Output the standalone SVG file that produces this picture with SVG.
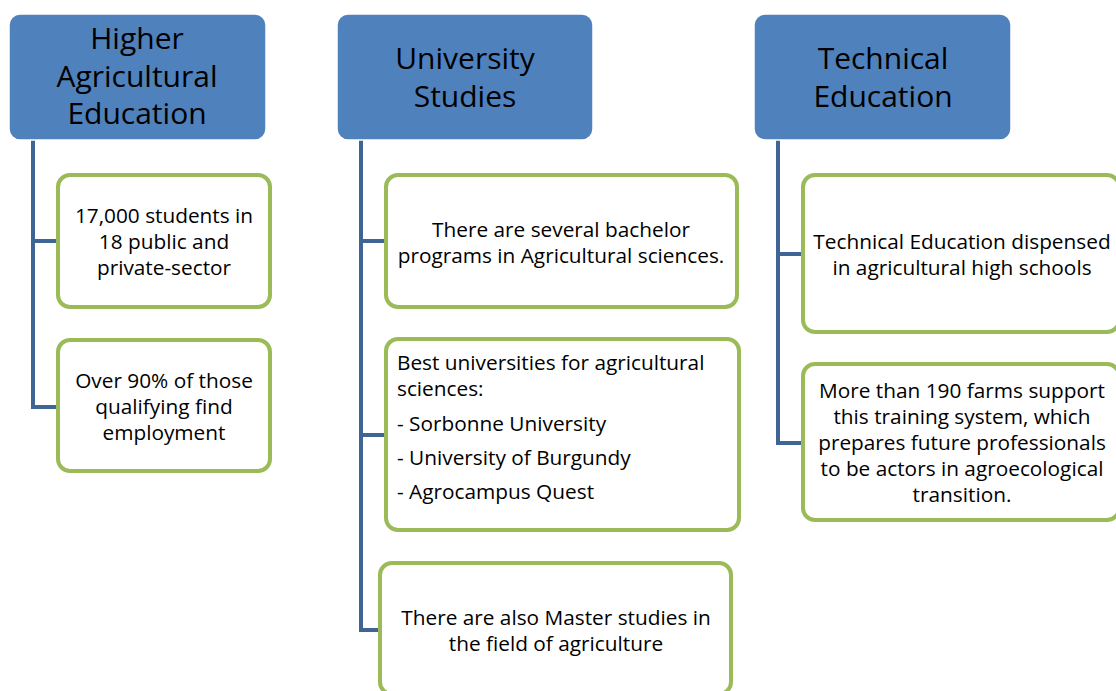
<svg xmlns="http://www.w3.org/2000/svg" width="1116" height="691" viewBox="0 0 1116 691">
  <style>
    .head { fill: #4F81BD; stroke: #FFFFFF; stroke-width: 1.5; }
    .item { fill: #FFFFFF; stroke: #9BBB59; stroke-width: 4; }
    .link { fill: none; stroke: #3F6594; stroke-width: 4; stroke-linejoin: miter; }
    .ht { font-family: "Open Sans", "Liberation Sans", sans-serif; font-size: 30px; fill: #000; text-anchor: middle; }
    .t { font-family: "Open Sans", "Liberation Sans", sans-serif; font-size: 20.8px; fill: #000; text-anchor: middle; }
    .tl { font-family: "Open Sans", "Liberation Sans", sans-serif; font-size: 20.8px; fill: #000; text-anchor: start; }
  </style>
  <rect width="1116" height="691" fill="#FFFFFF"/>

  <!-- connectors -->
  <g id="connectors">
    <path class="link" d="M33 140 V407 H58 M33 241 H58"/>
    <path class="link" d="M361 140 V630 H380 M361 241 H386 M361 435 H386"/>
    <path class="link" d="M778 140 V443 H803 M778 254 H803"/>
  </g>

  <!-- column 1 -->
  <g id="head-higher">
    <rect class="head" x="9" y="14" width="257" height="126" rx="11"/>
    <text class="ht" x="137" y="49">Higher</text>
    <text class="ht" x="137" y="87">Agricultural</text>
    <text class="ht" x="137" y="124">Education</text>
  </g>
  <g id="item-students">
    <rect class="item" x="58" y="175" width="212" height="132" rx="12"/>
    <text class="t" x="164" y="223">17,000 students in</text>
    <text class="t" x="164" y="249">18 public and</text>
    <text class="t" x="164" y="275">private-sector</text>
  </g>
  <g id="item-employment">
    <rect class="item" x="58" y="340" width="212" height="131" rx="12"/>
    <text class="t" x="164" y="388">Over 90% of those</text>
    <text class="t" x="164" y="414">qualifying find</text>
    <text class="t" x="164" y="440">employment</text>
  </g>

  <!-- column 2 -->
  <g id="head-university">
    <rect class="head" x="337" y="14" width="256" height="126" rx="11"/>
    <text class="ht" x="465" y="69">University</text>
    <text class="ht" x="465" y="107">Studies</text>
  </g>
  <g id="item-bachelor">
    <rect class="item" x="386" y="175" width="351" height="132" rx="12"/>
    <text class="t" x="561" y="237">There are several bachelor</text>
    <text class="t" x="561" y="263">programs in Agricultural sciences.</text>
  </g>
  <g id="item-best">
    <rect class="item" x="386" y="339" width="353" height="191" rx="12"/>
    <text class="tl" x="397" y="370">Best universities for agricultural</text>
    <text class="tl" x="397" y="396">sciences:</text>
    <text class="tl" x="397" y="431">- Sorbonne University</text>
    <text class="tl" x="397" y="465">- University of Burgundy</text>
    <text class="tl" x="397" y="499">- Agrocampus Quest</text>
  </g>
  <g id="item-master">
    <rect class="item" x="380" y="563" width="351" height="131" rx="12"/>
    <text class="t" x="556" y="625">There are also Master studies in</text>
    <text class="t" x="556" y="651">the field of agriculture</text>
  </g>

  <!-- column 3 -->
  <g id="head-technical">
    <rect class="head" x="754" y="14" width="257" height="126" rx="11"/>
    <text class="ht" x="883" y="69">Technical</text>
    <text class="ht" x="883" y="107">Education</text>
  </g>
  <g id="item-schools">
    <rect class="item" x="803" y="175" width="316" height="157" rx="12"/>
    <text class="t" x="962" y="249">Technical Education dispensed</text>
    <text class="t" x="962" y="275">in agricultural high schools</text>
  </g>
  <g id="item-farms">
    <rect class="item" x="803" y="364" width="316" height="156" rx="12"/>
    <text class="t" x="962" y="398">More than 190 farms support</text>
    <text class="t" x="962" y="424">this training system, which</text>
    <text class="t" x="962" y="450">prepares future professionals</text>
    <text class="t" x="962" y="476">to be actors in agroecological</text>
    <text class="t" x="962" y="502">transition.</text>
  </g>
</svg>
